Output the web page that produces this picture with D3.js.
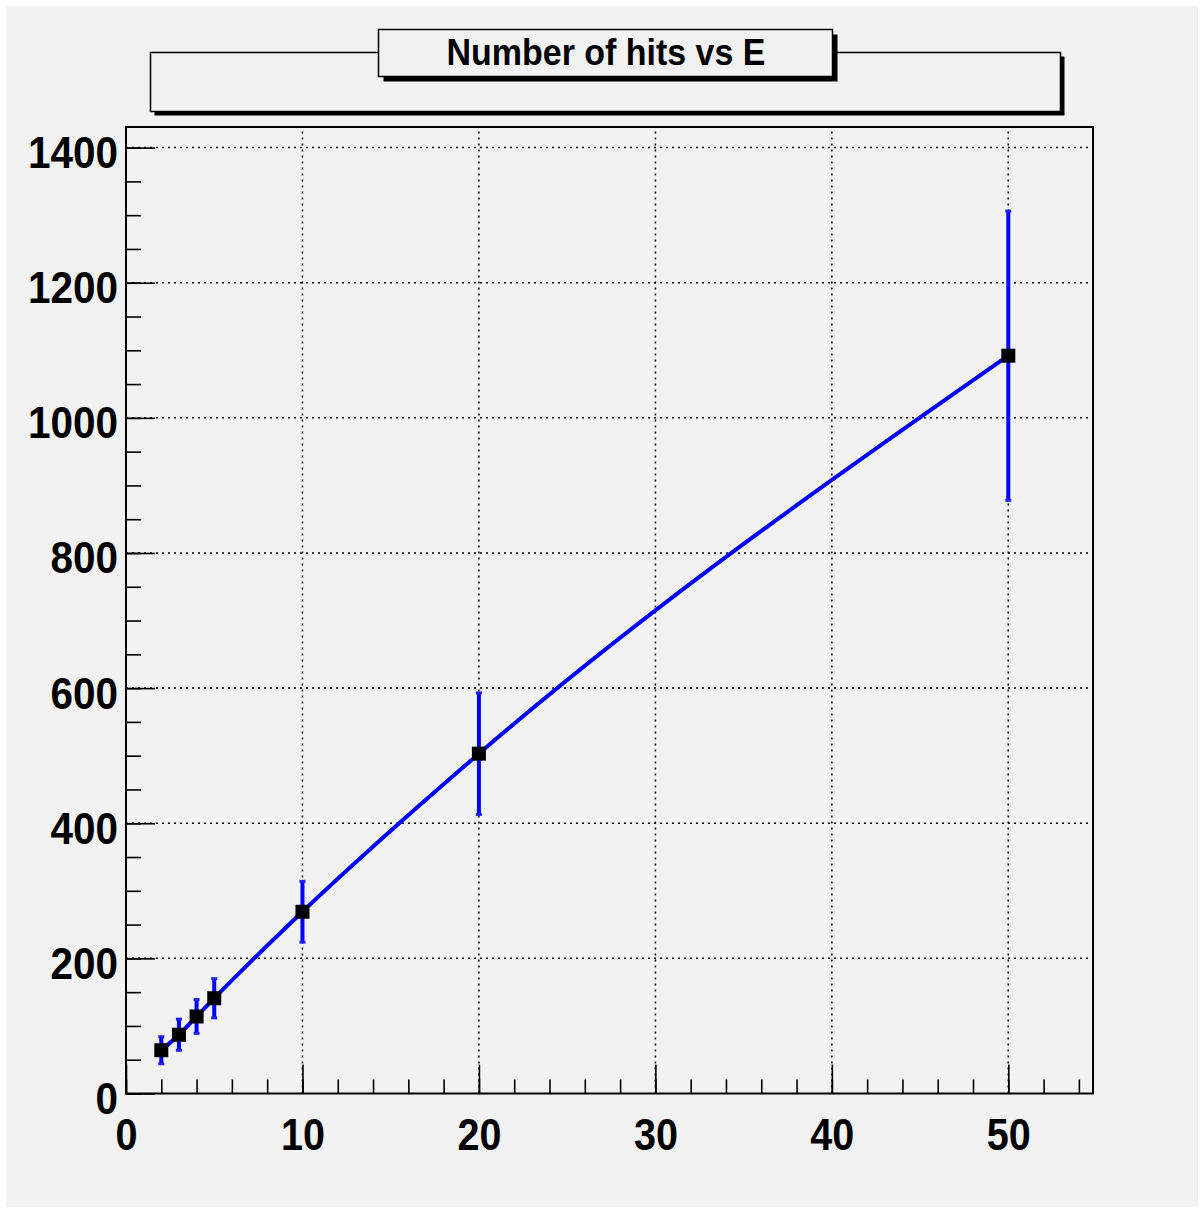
<!DOCTYPE html>
<html>
<head>
<meta charset="utf-8">
<script src="https://cdn.jsdelivr.net/npm/d3@7"></script>
<style>
  body { margin: 0; background: #ffffff; }
  svg { display: block; }
  text { font-family: "Liberation Sans", Arial, Helvetica, sans-serif; font-weight: bold; fill: #000; }
</style>
</head>
<body>
<svg id="chart" width="1204" height="1209"></svg>
<script>
// Beam energy (GeV) and mean number of hits with its spread
const energies  = [2, 3, 4, 5, 10, 20, 50];
const hits      = [64, 87, 114, 141, 269, 503, 1092];
const hitErrors = [20, 23, 25, 29, 45, 90, 214];

const xTickValues = [0, 10, 20, 30, 40, 50];
const xMinorValues = d3.range(0, 55, 2);
const yTickValues = [0, 200, 400, 600, 800, 1000, 1200, 1400];
const yMinorValues = d3.range(0, 1431, 50);
const titleText = "Number of hits vs E";

const svg = d3.select("#chart");

// pad
svg.append("rect").attr("x", 6).attr("y", 6).attr("width", 1192).attr("height", 1201)
  .attr("fill", "#f2f2f2");

const frame = { left: 126, right: 1093, top: 127, bottom: 1093.5 };
const x = d3.scaleLinear().domain([0, 54.8]).range([frame.left, frame.right]);
const y = d3.scaleLinear().domain([0, 1430.5]).range([frame.bottom, frame.top]);

// boxes with drop shadow
function shadowBox(x0, y0, w, h, off) {
  svg.append("rect").attr("x", x0 + off).attr("y", y0 + off).attr("width", w).attr("height", h)
    .attr("fill", "#000");
  svg.append("rect").attr("x", x0).attr("y", y0).attr("width", w).attr("height", h)
    .attr("fill", "#f2f2f2").attr("stroke", "#000").attr("stroke-width", 1.5);
}
shadowBox(150.5, 52.5, 910, 59, 4);
shadowBox(378.5, 29.5, 454, 47, 5);

svg.append("text")
  .attr("x", 606).attr("y", 65)
  .attr("text-anchor", "middle")
  .attr("font-size", 37)
  .attr("textLength", 319).attr("lengthAdjust", "spacingAndGlyphs")
  .text(titleText);

// grid
const grid = svg.append("g").attr("stroke", "#000").attr("stroke-width", 1.5)
  .attr("stroke-dasharray", "2,4");
grid.selectAll("line.v").data(xTickValues.filter(d => d > 0)).join("line")
  .attr("class", "v")
  .attr("x1", d => x(d)).attr("x2", d => x(d))
  .attr("y1", frame.bottom).attr("y2", frame.top);
grid.selectAll("line.h").data(yTickValues.filter(d => d > 0)).join("line")
  .attr("class", "h")
  .attr("y1", d => y(d)).attr("y2", d => y(d))
  .attr("x1", frame.left).attr("x2", frame.right);

// frame
svg.append("rect")
  .attr("x", frame.left).attr("y", frame.top)
  .attr("width", frame.right - frame.left).attr("height", frame.bottom - frame.top)
  .attr("fill", "none").attr("stroke", "#000").attr("stroke-width", 2);

// x axis: minor and major ticks pointing inward
const xMinor = svg.append("g").attr("transform", `translate(0,${frame.bottom})`)
  .call(d3.axisBottom(x).tickValues(xMinorValues).tickSize(-14).tickFormat(""));
const xMajor = svg.append("g").attr("transform", `translate(0,${frame.bottom})`)
  .call(d3.axisBottom(x).tickValues(xTickValues).tickSize(-29).tickFormat(d3.format("d")));
[xMinor, xMajor].forEach(g => {
  g.select(".domain").remove();
  g.selectAll(".tick line").attr("stroke", "#000").attr("stroke-width", 1.6);
});
xMajor.selectAll(".tick text")
  .attr("y", 56).attr("dy", null)
  .attr("font-size", 45)
  .attr("textLength", d => String(d).length * 22).attr("lengthAdjust", "spacingAndGlyphs");
xMajor.attr("font-family", null).attr("font-size", null);

// y axis
const yMinor = svg.append("g").attr("transform", `translate(${frame.left},0)`)
  .call(d3.axisLeft(y).tickValues(yMinorValues).tickSize(-15).tickFormat(""));
const yMajor = svg.append("g").attr("transform", `translate(${frame.left},0)`)
  .call(d3.axisLeft(y).tickValues(yTickValues).tickSize(-29).tickFormat(d3.format("d")));
[yMinor, yMajor].forEach(g => {
  g.select(".domain").remove();
  g.selectAll(".tick line").attr("stroke", "#000").attr("stroke-width", 1.6);
});
yMajor.selectAll(".tick text")
  .attr("x", -8).attr("y", 20).attr("dy", null)
  .attr("text-anchor", "end")
  .attr("font-size", 45)
  .attr("textLength", d => String(d).length * 22.5).attr("lengthAdjust", "spacingAndGlyphs");
yMajor.attr("font-family", null).attr("font-size", null);

// data
const pts = energies.map((e, i) => ({ e, n: hits[i], err: hitErrors[i] }));
const blue = "#0000ff";

const bars = svg.append("g");
bars.selectAll("line").data(pts).join("line")
  .attr("x1", d => x(d.e)).attr("x2", d => x(d.e))
  .attr("y1", d => y(d.n - d.err)).attr("y2", d => y(d.n + d.err))
  .attr("stroke", blue).attr("stroke-width", 4);
bars.selectAll("rect.cap").data(pts.flatMap(d => [d.n - d.err, d.n + d.err].map(v => ({ e: d.e, v }))))
  .join("rect").attr("class", "cap")
  .attr("x", d => x(d.e) - 3).attr("y", d => y(d.v) - 1.5)
  .attr("width", 6).attr("height", 3)
  .attr("fill", "#2020ff");

// smooth curve through the measured points
svg.append("path").datum(pts)
  .attr("d", d3.line().x(d => x(d.e)).y(d => y(d.n)).curve(d3.curveMonotoneX))
  .attr("fill", "none").attr("stroke", blue).attr("stroke-width", 4);

svg.append("g").selectAll("rect").data(pts).join("rect")
  .attr("x", d => x(d.e) - 7).attr("y", d => y(d.n) - 7)
  .attr("width", 14).attr("height", 14)
  .attr("fill", "#000");
</script>
</body>
</html>
